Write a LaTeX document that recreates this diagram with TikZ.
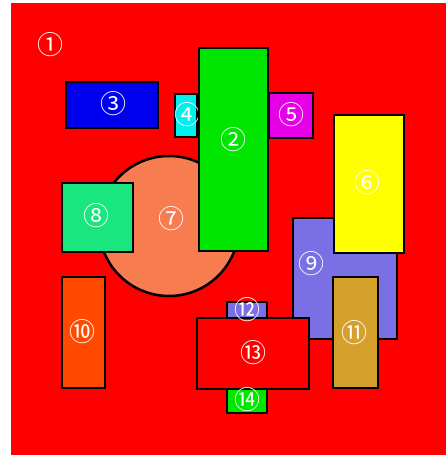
\documentclass[tikz,border=0pt]{standalone}
\usepackage{fontspec}
\usepackage{tikz}
\newfontfamily\cjk{Noto Sans CJK SC}
\definecolor{bgred}{HTML}{FF0000}
\definecolor{blk3}{HTML}{0000F0}
\definecolor{cyn4}{HTML}{00F0F0}
\definecolor{grn2}{HTML}{00E600}
\definecolor{mag5}{HTML}{E600E6}
\definecolor{yel6}{HTML}{FFFF00}
\definecolor{cor7}{HTML}{F77D50}
\definecolor{spr8}{HTML}{1AE680}
\definecolor{vio9}{HTML}{7B6FE6}
\definecolor{org10}{HTML}{FF4A00}
\definecolor{gld11}{HTML}{D6A02C}
\tikzset{plate/.style={draw=black,line width=2.5pt},
  num/.style={text=white,font=\cjk\fontsize{26}{26}\selectfont,inner sep=0pt}}
\newcommand{\plate}[5]{\filldraw[plate,fill=#1] (#2,#3) rectangle (#4,#5);}

\begin{document}
\begin{tikzpicture}[x=1pt,y=-1pt]
\useasboundingbox (0,0) rectangle (447,455);
\fill[bgred] (11,3) rectangle (446,455);
\node[num] (n1) at (50,45) {①};
% upper row
\plate{blk3}{66}{82}{158}{128}
\node[num] (n3) at (113,104) {③};
\plate{cyn4}{175}{94}{197}{137}
\node[num] (n4) at (187,115) {④};
\plate{mag5}{269}{93}{313}{138}
\node[num] (n5) at (291,115) {⑤};
% disc under the tall green block
\filldraw[plate,fill=cor7] (169,226) circle (70);
\node[num] (n7) at (171,219) {⑦};
\plate{grn2}{199}{48}{268}{251}
\node[num] (n2) at (233,140) {②};
\plate{spr8}{62}{183}{133}{252}
\node[num] (n8) at (96,216) {⑧};
% right group
\plate{vio9}{293}{218}{397}{339}
\node[num] (n9) at (311,264) {⑨};
\plate{yel6}{334}{115}{404}{253}
\node[num] (n6) at (367,183) {⑥};
\plate{gld11}{333}{277}{378}{388}
\node[num] (n11) at (354,333) {⑪};
\plate{org10}{62}{277}{105}{388}
\node[num] (n10) at (82,332) {⑩};
% bottom stack
\plate{vio9}{227}{302}{267}{322}
\plate{grn2}{227}{385}{267}{413}
\plate{bgred}{197}{318}{309}{389}
\node[num] (n12) at (247,310) {⑫};
\node[num] (n13) at (253,353) {⑬};
\node[num] (n14) at (247,400) {⑭};
\end{tikzpicture}
\end{document}
